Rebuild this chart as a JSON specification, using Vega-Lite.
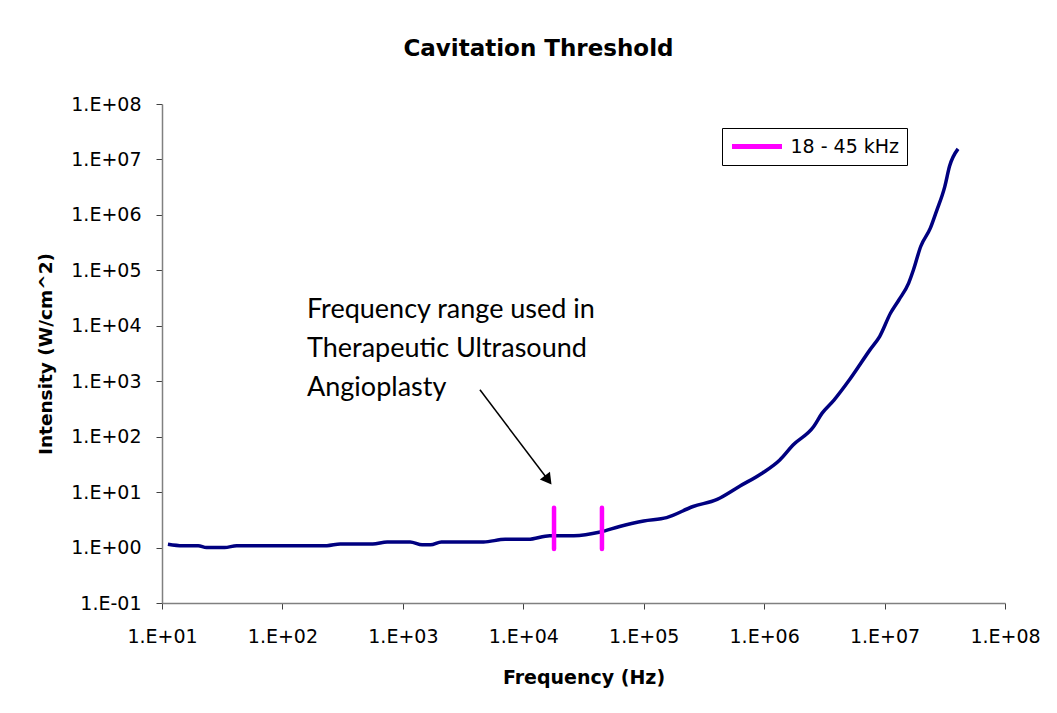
{
  "$schema": "https://vega.github.io/schema/vega-lite/v6.json",
  "width": 843,
  "height": 499,
  "autosize": {"type": "none"},
  "padding": {"left": 162, "top": 104, "right": 52, "bottom": 110},
  "background": "white",
  "config": {"view": {"stroke": null}},
  "title": {
    "text": "Cavitation Threshold",
    "font": "DejaVu Sans",
    "fontWeight": "bold",
    "fontSize": 23,
    "color": "black",
    "anchor": "middle",
    "frame": "bounds",
    "offset": 34
  },
  "datasets": {
    "curve": [
      {"freq": 11.2, "intensity": 1.15},
      {"freq": 14.8, "intensity": 1.08},
      {"freq": 20, "intensity": 1.08},
      {"freq": 23.4, "intensity": 1.0},
      {"freq": 33.1, "intensity": 1.0},
      {"freq": 41.7, "intensity": 1.08},
      {"freq": 234, "intensity": 1.08},
      {"freq": 302, "intensity": 1.16},
      {"freq": 562, "intensity": 1.16},
      {"freq": 741, "intensity": 1.26},
      {"freq": 1148, "intensity": 1.26},
      {"freq": 1445, "intensity": 1.12},
      {"freq": 1698, "intensity": 1.12},
      {"freq": 2089, "intensity": 1.26},
      {"freq": 4677, "intensity": 1.26},
      {"freq": 7079, "intensity": 1.41},
      {"freq": 10965, "intensity": 1.41},
      {"freq": 16596, "intensity": 1.64},
      {"freq": 26303, "intensity": 1.64},
      {"freq": 43652, "intensity": 1.91},
      {"freq": 63096, "intensity": 2.4},
      {"freq": 100000, "intensity": 3.02},
      {"freq": 154882, "intensity": 3.47},
      {"freq": 257040, "intensity": 5.5},
      {"freq": 407380, "intensity": 7.41},
      {"freq": 630957, "intensity": 12.9},
      {"freq": 977237, "intensity": 22.4},
      {"freq": 1348963, "intensity": 38},
      {"freq": 1737801, "intensity": 70.8},
      {"freq": 2570396, "intensity": 151},
      {"freq": 3019952, "intensity": 263},
      {"freq": 3801894, "intensity": 457},
      {"freq": 5128614, "intensity": 1072},
      {"freq": 7585776, "intensity": 3715},
      {"freq": 9120108, "intensity": 6457},
      {"freq": 11220185, "intensity": 16982},
      {"freq": 13182567, "intensity": 29512},
      {"freq": 15848932, "intensity": 58884},
      {"freq": 17378008, "intensity": 102329},
      {"freq": 19952623, "intensity": 269153},
      {"freq": 23988329, "intensity": 575440},
      {"freq": 26915348, "intensity": 1148154},
      {"freq": 31622777, "intensity": 3235937},
      {"freq": 34673685, "intensity": 7585776},
      {"freq": 40738028, "intensity": 15488166}
    ],
    "range": [
      {"freq": 18000, "low": 0.94, "high": 5.2, "series": "18 - 45 kHz"},
      {"freq": 45000, "low": 0.94, "high": 5.2, "series": "18 - 45 kHz"}
    ],
    "arrow": [
      {"x1": 4365, "y1": 700, "x2": 16100, "y2": 16.5}
    ],
    "note": [
      {"freq": 160, "intensity": 13900, "text": ["Frequency range used in", "Therapeutic Ultrasound", "Angioplasty"]}
    ]
  },
  "layer": [
    {
      "data": {"name": "curve"},
      "mark": {"type": "line", "color": "#000080", "strokeWidth": 3.5, "interpolate": "monotone"},
      "encoding": {
        "x": {
          "field": "freq",
          "type": "quantitative",
          "scale": {"type": "log", "domain": [10, 100000000], "nice": false},
          "axis": {
            "title": "Frequency (Hz)",
            "values": [10, 100, 1000, 10000, 100000, 1000000, 10000000, 100000000],
            "labelExpr": "'1.E' + (round(log(datum.value)/LN10) < 0 ? '-' : '+') + (abs(round(log(datum.value)/LN10)) < 10 ? '0' : '') + abs(round(log(datum.value)/LN10))",
            "grid": false,
            "domainColor": "#808080",
            "domainWidth": 1.5,
            "tickColor": "#404040",
            "tickSize": 6,
            "labelFont": "DejaVu Sans",
            "labelFontSize": 19,
            "labelColor": "black",
            "labelPadding": 18,
            "labelFlush": false,
            "labelOverlap": false,
            "titleFont": "DejaVu Sans",
            "titleFontWeight": "bold",
            "titleFontSize": 19,
            "titleColor": "black",
            "titlePadding": 22
          }
        },
        "y": {
          "field": "intensity",
          "type": "quantitative",
          "scale": {"type": "log", "domain": [0.1, 100000000], "nice": false},
          "axis": {
            "title": "Intensity (W/cm^2)",
            "values": [0.1, 1, 10, 100, 1000, 10000, 100000, 1000000, 10000000, 100000000],
            "labelExpr": "'1.E' + (round(log(datum.value)/LN10) < 0 ? '-' : '+') + (abs(round(log(datum.value)/LN10)) < 10 ? '0' : '') + abs(round(log(datum.value)/LN10))",
            "grid": false,
            "domainColor": "#808080",
            "domainWidth": 1.5,
            "tickColor": "#404040",
            "tickSize": 6,
            "labelFont": "DejaVu Sans",
            "labelFontSize": 19,
            "labelColor": "black",
            "labelPadding": 15,
            "labelFlush": false,
            "labelOverlap": false,
            "titleFont": "DejaVu Sans",
            "titleFontWeight": "bold",
            "titleFontSize": 18.5,
            "titleColor": "black",
            "titlePadding": 15
          }
        }
      }
    },
    {
      "data": {"name": "range"},
      "mark": {"type": "rule", "strokeWidth": 4.5, "strokeCap": "round"},
      "encoding": {
        "x": {"field": "freq", "type": "quantitative"},
        "y": {"field": "low", "type": "quantitative"},
        "y2": {"field": "high"},
        "color": {
          "field": "series",
          "type": "nominal",
          "scale": {"range": ["#FF00FF"]},
          "legend": {
            "title": null,
            "orient": "none",
            "legendX": 560,
            "legendY": 24,
            "symbolType": "stroke",
            "symbolSize": 2500,
            "symbolStrokeWidth": 5,
            "clipHeight": 22,
            "labelFont": "DejaVu Sans",
            "labelFontSize": 19,
            "labelColor": "black",
            "labelOffset": 6,
            "strokeColor": "black",
            "fillColor": "white",
            "padding": 7.5,
            "cornerRadius": 0
          }
        }
      }
    },
    {
      "data": {"name": "arrow"},
      "mark": {"type": "rule", "color": "black", "strokeWidth": 1.5},
      "encoding": {
        "x": {"field": "x1", "type": "quantitative"},
        "y": {"field": "y1", "type": "quantitative"},
        "x2": {"field": "x2"},
        "y2": {"field": "y2"}
      }
    },
    {
      "data": {"name": "arrow"},
      "mark": {"type": "point", "shape": "triangle-up", "filled": true, "color": "black", "size": 160, "angle": 143, "opacity": 1},
      "encoding": {
        "x": {"field": "x2", "type": "quantitative"},
        "y": {"field": "y2", "type": "quantitative"}
      }
    },
    {
      "data": {"name": "note"},
      "mark": {"type": "text", "font": "Lato", "fontSize": 27, "align": "left", "baseline": "alphabetic", "lineHeight": 39, "color": "black"},
      "encoding": {
        "x": {"field": "freq", "type": "quantitative"},
        "y": {"field": "intensity", "type": "quantitative"},
        "text": {"field": "text"}
      }
    }
  ]
}
